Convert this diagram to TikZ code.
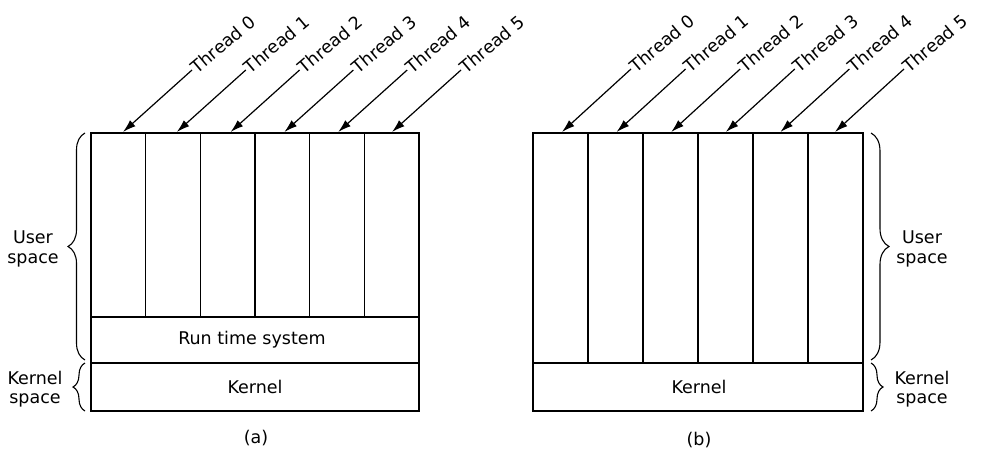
\documentclass[tikz,border=0pt]{standalone}
\usepackage{fontspec}
\setmainfont{DejaVu Sans}
\usetikzlibrary{arrows.meta,decorations.pathreplacing}
\begin{document}
\begin{tikzpicture}[x=1pt,y=-1pt,
  outer/.style={line width=2.3pt},
  divider/.style={line width=1.1pt},
  arr/.style={line width=1.2pt,-{Latex[length=13pt,width=8pt]}},
  lbl/.style={font=\fontsize{17.5}{19}\selectfont,inner sep=1pt},
  side/.style={font=\fontsize{17.5}{19.5}\selectfont,align=center,inner sep=0pt},
  brc/.style={decorate,line width=1.1pt},
  tlabel/.style={font=\fontsize{17.5}{19}\selectfont,anchor=west,rotate=40,inner sep=1pt}]
\useasboundingbox (0,0) rectangle (982,457);
% ---------- (a) ----------
\draw[outer] (91,133) rectangle (419,411);
\draw[outer] (91,317) -- (419,317);
\draw[outer] (91,363) -- (419,363);
\foreach \k in {1,...,5}{
  \draw[divider] ({91+54.67*\k},133) -- ({91+54.67*\k},317);
}
\node[lbl] (rts) at (252,340) {Run time system};
\node[lbl] (kera) at (255,387) {Kernel};
\foreach \k in {0,...,5}{
  \coordinate (ta\k) at ({123+53.8*\k},132);
  \node[tlabel] (la\k) at ({192+53.8*\k},70) {Thread \k};
  \draw[arr] (la\k.west) -- (ta\k);
}
\draw[brc,decoration={brace,amplitude=17pt}] (85,360) -- (85,133);
\draw[brc,decoration={brace,amplitude=12pt}] (85,411) -- (85,363);
\node[side] (usa) at (33,249) {User\\space};
\node[side] (ksa) at (35,389) {Kernel\\space};
\node[lbl] (capa) at (256,438) {(a)};
% ---------- (b) ----------
\draw[outer] (533,133) rectangle (863,411);
\draw[outer] (533,363) -- (863,363);
\foreach \k in {1,...,5}{
  \draw[divider] ({533+55*\k},133) -- ({533+55*\k},363);
}
\node[lbl] (kerb) at (699,387) {Kernel};
\foreach \k in {0,...,5}{
  \coordinate (tb\k) at ({562+54.6*\k},132);
  \node[tlabel] (lb\k) at ({631+54.6*\k},69) {Thread \k};
  \draw[arr] (lb\k.west) -- (tb\k);
}
\draw[brc,decoration={brace,amplitude=18pt}] (871,133) -- (871,360);
\draw[brc,decoration={brace,amplitude=12pt}] (871,363) -- (871,411);
\node[side] (usb) at (922,249) {User\\space};
\node[side] (ksb) at (922,389) {Kernel\\space};
\node[lbl] (capb) at (699,440) {(b)};
\end{tikzpicture}
\end{document}
